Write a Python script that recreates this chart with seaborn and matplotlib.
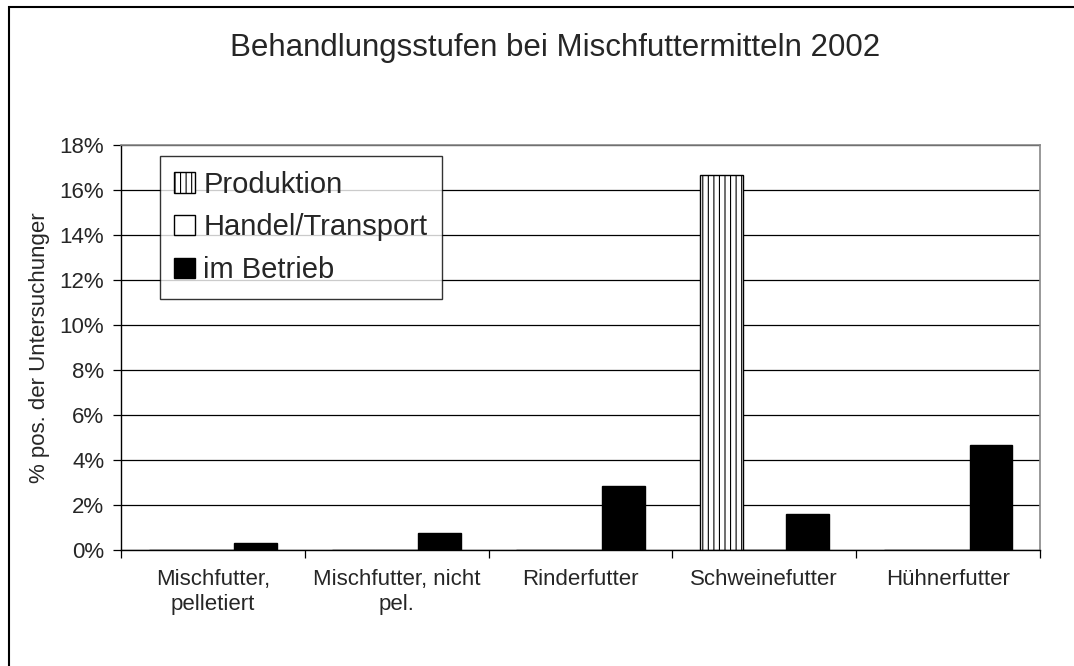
import matplotlib
matplotlib.use("Agg")
import matplotlib.pyplot as plt
from matplotlib.patches import Patch, Rectangle
from matplotlib.ticker import PercentFormatter, FixedLocator
import seaborn as sns
import pandas as pd

# Data (percent positive)
kategorien = ["Mischfutter,\npelletiert", "Mischfutter, nicht\npel.", "Rinderfutter",
              "Schweinefutter", "Hühnerfutter"]
stufen = ["Produktion", "Handel/Transport", "im Betrieb"]
produktion = [0.0, 0.0, 0.0, 16.67, 0.0]
handel = [0.0, 0.0, 0.0, 0.0, 0.0]
im_betrieb = [0.32, 0.74, 2.84, 1.59, 4.65]

df = pd.DataFrame({
    "kategorie": kategorien * 3,
    "stufe": [s for s in stufen for _ in kategorien],
    "wert": produktion + handel + im_betrieb,
})

sns.set_style("white")
plt.rcParams["font.family"] = ["Liberation Sans", "DejaVu Sans"]
plt.rcParams["hatch.linewidth"] = 0.8

fig = plt.figure(figsize=(10.74, 6.66), dpi=100)
ax = fig.add_axes([0.1127, 0.1742, 0.8556, 0.6081])

farben = {"Produktion": "white", "Handel/Transport": "white", "im Betrieb": "black"}
sns.barplot(data=df, x="kategorie", y="wert", hue="stufe", hue_order=stufen,
            order=kategorien, palette=farben, width=0.7, edgecolor="black",
            linewidth=1, saturation=1, errorbar=None, ax=ax, legend=False)

for bar in ax.containers[0]:
    bar.set_hatch("|||")

ax.set_ylim(0, 18)
ax.set_xlim(-0.5, 4.5)
ax.set_yticks(range(0, 19, 2))
ax.yaxis.set_major_formatter(PercentFormatter(decimals=0))
ax.yaxis.grid(True, color="black", linewidth=0.9)
ax.set_axisbelow(True)

ax.tick_params(axis="y", which="major", length=6, width=0.9, color="black",
               labelsize=16, pad=6, left=True)
ax.tick_params(axis="x", which="major", length=0, labelsize=16, pad=14)
ax.xaxis.set_minor_locator(FixedLocator([-0.5, 0.5, 1.5, 2.5, 3.5, 4.5]))
ax.tick_params(axis="x", which="minor", length=6, width=0.9, color="black", bottom=True)

for side in ["left", "bottom"]:
    ax.spines[side].set_color("black")
    ax.spines[side].set_linewidth(1)
for side in ["top", "right"]:
    ax.spines[side].set_color("#888888")
    ax.spines[side].set_linewidth(1.2)

ax.set_xlabel("")
ax.set_ylabel("% pos. der Untersuchunger", fontsize=16, labelpad=7)

handles = [Patch(facecolor="white", edgecolor="black", hatch="|||", label="Produktion"),
           Patch(facecolor="white", edgecolor="black", label="Handel/Transport"),
           Patch(facecolor="black", edgecolor="black", label="im Betrieb")]
leg = ax.legend(handles=handles, loc="upper left", bbox_to_anchor=(0.042, 0.972),
                fontsize=21, frameon=True, fancybox=False, edgecolor="black",
                handlelength=0.7, handleheight=0.7, handletextpad=0.3,
                labelspacing=0.5, borderpad=0.5, borderaxespad=0)
leg.get_frame().set_linewidth(1)

fig.text(0.517, 0.928, "Behandlungsstufen bei Mischfuttermitteln 2002",
         ha="center", va="center", fontsize=22.5)

# outer chart frame (only left and top edges visible)
fig.add_artist(Rectangle((0.0084, -0.1), 2, 1.0895, transform=fig.transFigure,
                         fill=False, edgecolor="black", linewidth=1.5, clip_on=False))

fig.savefig("out.png", dpi=100)
